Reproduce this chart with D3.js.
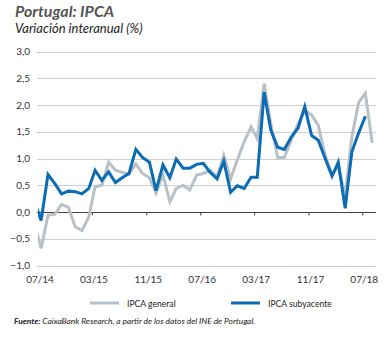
<!DOCTYPE html>
<html>
<head>
<meta charset="utf-8">
<script src="https://cdn.jsdelivr.net/npm/d3@7"></script>
<style>
  body { margin: 0; background: #fff; }
  svg { display: block; font-family: Lato, "Open Sans", sans-serif; }
</style>
</head>
<body>
<div id="chart"></div>
<script>
// monthly data, first point 06/14 (partly clipped at left edge)
var startMonth = "2014-06";
var ipcaGeneral = [
    -0.20, -0.68, -0.06, -0.04, 0.14, 0.09, -0.27,
    -0.35, -0.09, 0.47, 0.50, 0.93, 0.78, 0.74, 0.71, 0.90, 0.72, 0.64, 0.35,
    0.70, 0.19, 0.44, 0.50, 0.41, 0.69, 0.72, 0.78, 0.66, 1.06, 0.62, 0.97,
    1.31, 1.59, 1.37, 2.40, 1.65, 1.02, 1.02, 1.34, 1.65, 1.90, 1.81, 1.62,
    1.05, 0.70, 0.85, 0.30, 1.40, 2.05, 2.22, 1.29
];
var ipcaSubyacente = [
    0.20, -0.16, 0.70, 0.53, 0.34, 0.39, 0.38,
    0.34, 0.44, 0.78, 0.59, 0.75, 0.55, 0.64, 0.72, 1.17, 1.02, 0.93, 0.40,
    0.88, 0.64, 0.99, 0.82, 0.82, 0.89, 0.91, 0.74, 0.62, 0.95, 0.37, 0.49,
    0.44, 0.65, 0.65, 2.24, 1.53, 1.21, 1.17, 1.40, 1.57, 1.97, 1.43, 1.34,
    1.00, 0.67, 0.93, 0.07, 1.12, 1.48, 1.79
];
var xTickLabels = ["07/14", "03/15", "11/15", "07/16", "03/17", "11/17", "07/18"];
var yTicks = [-1, -0.5, 0, 0.5, 1, 1.5, 2, 2.5, 3];
var seriesNames = ["IPCA general", "IPCA subyacente"];
var seriesColors = ["#b9c1c6", "#0b6cb5"];

var width = 390, height = 338;
var plotLeft = 38, plotRight = 376, plotTop = 51.5, plotBottom = 265.5;

var parseMonth = d3.timeParse("%Y-%m");
var parseLabel = d3.timeParse("%m/%y");
var fmtComma = function (v) { return d3.format(".1f")(v).replace(".", ","); };

function toPoints(values) {
    var start = parseMonth(startMonth);
    return values.map(function (v, i) {
        var d = d3.timeMonth.offset(start, i);
        return { date: new Date(d.getFullYear(), d.getMonth(), 15), value: v };
    });
}

var svg = d3.select("#chart").append("svg")
    .attr("width", width).attr("height", height);

var x = d3.scaleTime()
    .domain([parseLabel("07/14"), parseLabel("09/18")])
    .range([plotLeft, plotRight]);
var y = d3.scaleLinear().domain([-1, 3]).range([plotBottom, plotTop]);

// titles
svg.append("text").attr("x", 15).attr("y", 17)
    .style("font-size", "16px").style("font-weight", "bold").style("font-style", "italic")
    .attr("fill", "#555").text("Portugal: IPCA");
svg.append("text").attr("x", 15).attr("y", 33)
    .style("font-size", "13px").style("font-style", "italic")
    .attr("fill", "#222").text("Variación interanual (%)");

// grid + y labels
svg.append("g").selectAll("line").data(yTicks.filter(function (t) { return t !== 0; }))
    .enter().append("line")
    .attr("x1", plotLeft - 1).attr("x2", plotRight)
    .attr("y1", function (d) { return Math.round(y(d)) + 0.5; })
    .attr("y2", function (d) { return Math.round(y(d)) + 0.5; })
    .attr("stroke", "#cfcfcf").attr("stroke-width", 1);

svg.append("g").selectAll("text").data(yTicks)
    .enter().append("text")
    .attr("x", 30).attr("y", function (d) { return y(d) + 3.5; })
    .attr("text-anchor", "end").style("font-size", "10px").attr("fill", "#333")
    .text(fmtComma);

// zero line with month ticks
var xAxis = d3.axisBottom(x)
    .tickValues(xTickLabels.map(parseLabel))
    .tickSize(3)
    .tickFormat("");
var axisG = svg.append("g")
    .attr("transform", "translate(0," + (Math.round(y(0)) + 0.5) + ")")
    .call(xAxis);
axisG.select(".domain").attr("d", "M" + (plotLeft - 1) + ",0H" + plotRight).attr("stroke", "#444");
axisG.selectAll(".tick line").attr("stroke", "#444");
axisG.selectAll(".tick").filter(function (d, i) { return i === 0; }).remove();

svg.append("g").selectAll("text").data(xTickLabels)
    .enter().append("text")
    .attr("x", function (d) { return x(parseLabel(d)) + 2; })
    .attr("y", 283)
    .attr("text-anchor", "middle").style("font-size", "10px").attr("fill", "#333")
    .text(function (d) { return d; });

// lines
svg.append("clipPath").attr("id", "plotclip")
    .append("rect").attr("x", plotLeft).attr("y", 0)
    .attr("width", plotRight - plotLeft).attr("height", height);

var line = d3.line()
    .x(function (d) { return x(d.date); })
    .y(function (d) { return y(d.value); });

[ipcaGeneral, ipcaSubyacente].forEach(function (vals, i) {
    svg.append("path")
        .datum(toPoints(vals))
        .attr("clip-path", "url(#plotclip)")
        .attr("fill", "none")
        .attr("stroke", seriesColors[i])
        .attr("stroke-width", 3)
        .attr("stroke-linejoin", "miter")
        .attr("d", line);
});

// legend
var legendX = [90, 231];
seriesNames.forEach(function (name, i) {
    svg.append("line")
        .attr("x1", legendX[i]).attr("x2", legendX[i] + 29)
        .attr("y1", 303).attr("y2", 303)
        .attr("stroke", seriesColors[i]).attr("stroke-width", 3);
    svg.append("text")
        .attr("x", legendX[i] + 37).attr("y", 306.5)
        .style("font-size", "8.6px").attr("fill", "#222")
        .text(name);
});

// source
var src = svg.append("text").attr("x", 14).attr("y", 324)
    .style("font-size", "8.4px").style("font-style", "italic").attr("fill", "#222");
src.append("tspan").style("font-weight", "bold").text("Fuente: ");
src.append("tspan").text("CaixaBank Research, a partir de los datos del INE de Portugal.");
</script>
</body>
</html>
